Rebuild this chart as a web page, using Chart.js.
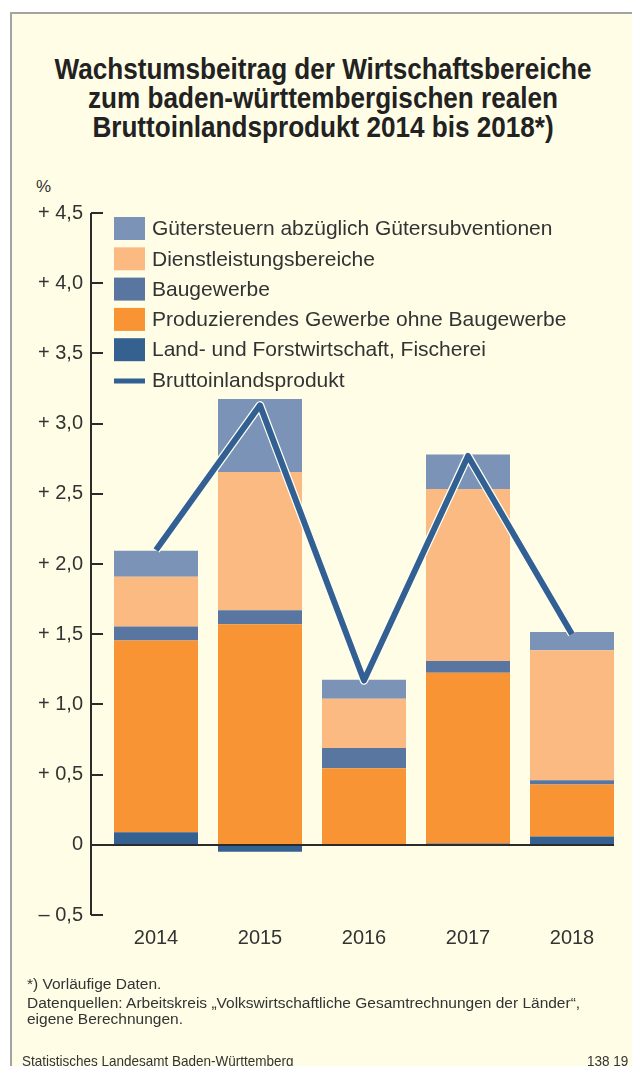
<!DOCTYPE html>
<html>
<head>
<meta charset="utf-8">
<script src="https://cdn.jsdelivr.net/npm/chart.js@4/dist/chart.umd.min.js"></script>
<style>
	html, body { margin: 0; padding: 0; background: #fff; }
	body { width: 632px; height: 1066px; position: relative; overflow: hidden; }
	#frame {
		position: absolute; left: 10px; top: 12px; right: -2px; bottom: -2px;
		background: #fffde6; border-left: 2px solid #a3a3a3; border-top: 2px solid #a3a3a3;
	}
	#title {
		position: absolute; left: 0; width: 646px; top: 55px; text-align: center;
		font-family: "Liberation Sans", sans-serif; font-weight: bold;
		font-size: 29px; line-height: 29px; color: #222;
		transform: scaleX(0.9); transform-origin: 323px 0;
	}
	#unit { position: absolute; left: 36px; top: 177px; font: 17px "Liberation Sans", sans-serif; color: #333; }
	#notes {
		position: absolute; left: 27px; top: 976px;
		font-family: "Liberation Sans", sans-serif; font-size: 15.5px; line-height: 16px; color: #333;
	}
	#notes div + div { margin-top: 3px; }
	.foot {
		position: absolute; top: 1052px; font-family: "Liberation Sans", sans-serif; font-size: 15px; color: #333;
		white-space: nowrap; transform: scaleX(0.9); transform-origin: 0 0;
	}
	canvas { position: absolute; left: 0; top: 0; }
</style>
</head>
<body>
<div id="frame"></div>
<div id="title">Wachstumsbeitrag der Wirtschaftsbereiche<br>zum baden-württembergischen realen<br>Bruttoinlandsprodukt 2014 bis 2018*)</div>
<div id="unit">%</div>
<canvas id="chart" width="632" height="1066"></canvas>
<div id="notes">
	<div>*) Vorläufige Daten.</div>
	<div>Datenquellen: Arbeitskreis „Volkswirtschaftliche Gesamtrechnungen der Länder“,<br>eigene Berechnungen.</div>
</div>
<div class="foot" style="left:22px">Statistisches Landesamt Baden-Württemberg</div>
<div class="foot" style="left:587px">138 19</div>
<script>
// data (percentage points)
const years = ['2014', '2015', '2016', '2017', '2018'];
const landForst = [0.09, -0.05, 0.005, 0.01, 0.06];
const produzierend = [1.365, 1.57, 0.54, 1.215, 0.37];
const baugewerbe = [0.10, 0.10, 0.145, 0.085, 0.03];
const dienstleistung = [0.355, 0.985, 0.35, 1.225, 0.925];
const guetersteuern = [0.185, 0.52, 0.135, 0.245, 0.13];
const bip = [2.1, 3.13, 1.17, 2.77, 1.5];

const yMin = -0.5, yMax = 4.5, yStep = 0.5;

const labels = [
	'Land- und Forstwirtschaft, Fischerei',
	'Produzierendes Gewerbe ohne Baugewerbe',
	'Baugewerbe',
	'Dienstleistungsbereiche',
	'Gütersteuern abzüglich Gütersubventionen',
	'Bruttoinlandsprodukt'
];
const colors = ['#356190', '#f89433', '#5876a0', '#fbba82', '#7a93b7', '#336092'];
const ink = '#2b2b2b';

function barSet(i, values) {
	return {
		type: 'bar', label: labels[i], data: values, backgroundColor: colors[i],
		stack: 'bars', order: 2, barPercentage: 1, categoryPercentage: 84 / 104
	};
}

// y axis on the left with inward tick marks, zero line, and legend box
const decorations = {
	id: 'decorations',
	afterDatasetsDraw(chart) {
		const ctx = chart.ctx, area = chart.chartArea, y = chart.scales.y;
		const axisX = area.left - 13;
		ctx.save();
		ctx.strokeStyle = ink;
		ctx.lineWidth = 2;
		ctx.beginPath();
		ctx.moveTo(axisX, y.getPixelForValue(yMax));
		ctx.lineTo(axisX, y.getPixelForValue(yMin));
		y.ticks.forEach(t => {
			const py = Math.round(y.getPixelForValue(t.value));
			ctx.moveTo(axisX, py);
			ctx.lineTo(axisX + 12, py);
		});
		// zero line to the right edge of the last bar
		const lastBar = chart.getDatasetMeta(0).data[years.length - 1];
		const z = Math.round(y.getPixelForValue(0));
		ctx.moveTo(axisX, z);
		ctx.lineTo(lastBar.x + lastBar.width / 2, z);
		ctx.stroke();
		ctx.restore();
	},
	afterDraw(chart) {
		const ctx = chart.ctx, area = chart.chartArea;
		const x0 = area.left + 10, top = area.top + 4, rowH = 30.3;
		ctx.save();
		ctx.font = '21px "Liberation Sans", sans-serif';
		ctx.textBaseline = 'middle';
		const order = [4, 3, 2, 1, 0, 5];
		order.forEach((i, r) => {
			const ry = top + r * rowH;
			ctx.fillStyle = colors[i];
			if (i === 5) {
				ctx.fillRect(x0, ry + 10, 31, 5);
			} else {
				ctx.fillRect(x0, ry, 31, 23);
			}
			ctx.fillStyle = '#333';
			ctx.fillText(labels[i], x0 + 38, ry + 12.5);
		});
		ctx.restore();
	}
};

new Chart(document.getElementById('chart'), {
	data: {
		labels: years,
		datasets: [
			barSet(0, landForst),
			barSet(1, produzierend),
			barSet(2, baugewerbe),
			barSet(3, dienstleistung),
			barSet(4, guetersteuern),
			{
				type: 'line', label: labels[5], data: bip, borderColor: colors[5], borderWidth: 6,
				borderJoinStyle: 'round', borderCapStyle: 'butt', pointRadius: 0, tension: 0,
				stack: 'bip', order: 0
			},
			{
				// thin light halo under the line
				type: 'line', label: 'halo', data: bip, borderColor: '#fffff4', borderWidth: 8.5,
				borderJoinStyle: 'round', borderCapStyle: 'butt', pointRadius: 0, tension: 0,
				stack: 'halo', order: 1
			}
		]
	},
	options: {
		responsive: false,
		animation: false,
		devicePixelRatio: 1,
		layout: { padding: { top: 213, left: 0, right: 8, bottom: 101 } },
		plugins: { legend: { display: false }, tooltip: { enabled: false }, title: { display: false } },
		scales: {
			x: {
				stacked: true,
				offset: true,
				grid: { display: false, drawTicks: false },
				border: { display: false },
				ticks: { color: '#333', padding: 11, font: { size: 20, family: '"Liberation Sans", sans-serif' } },
				afterFit: s => { s.height = 50; }
			},
			y: {
				stacked: true,
				min: yMin,
				max: yMax,
				grid: { display: false, drawTicks: false },
				border: { display: false },
				ticks: {
					stepSize: yStep,
					padding: 21,
					color: '#333',
					font: { size: 20, family: '"Liberation Sans", sans-serif' },
					callback: v => v === 0 ? '0' : (v > 0 ? '+ ' : '– ') + Math.abs(v).toFixed(1).replace('.', ',')
				},
				afterFit: s => { s.width = 104; }
			}
		}
	},
	plugins: [decorations]
});
</script>
</body>
</html>
